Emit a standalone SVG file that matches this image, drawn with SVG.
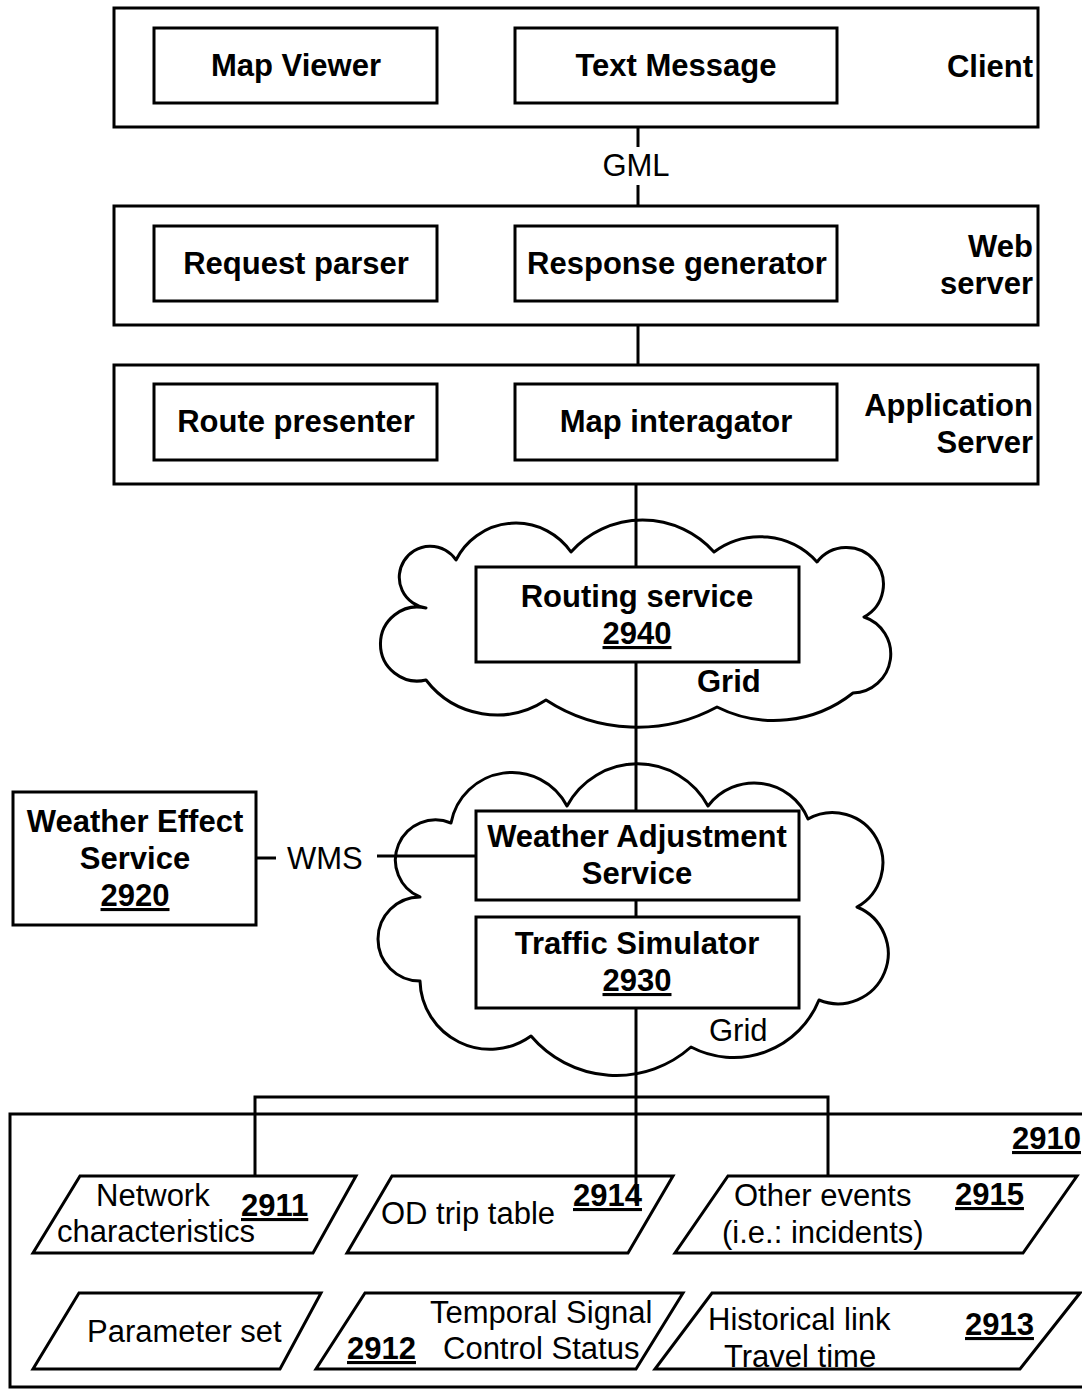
<svg xmlns="http://www.w3.org/2000/svg" width="1082" height="1389" viewBox="0 0 1082 1389">
<style>
  .box { fill: #ffffff; stroke: #000000; stroke-width: 3; }
  .cloud { fill: none; stroke: #000000; stroke-width: 3; stroke-linejoin: round; }
  .para { fill: #ffffff; stroke: #000000; stroke-width: 3; stroke-linejoin: miter; }
  .wire { fill: none; stroke: #000000; stroke-width: 3; }
  text { font-family: "Liberation Sans", Arial, Helvetica, sans-serif; font-size: 31px; fill: #000000; }
  .b { font-weight: bold; }
  .c { text-anchor: middle; }
  .e { text-anchor: end; }
  .u { text-decoration: underline; font-weight: bold; }
</style>
<rect width="1082" height="1389" fill="#ffffff"/>

<g id="clouds">
  <path id="grid-cloud-1" class="cloud" d="M 456 560 A 67 67 0 0 1 571 552 A 96 96 0 0 1 714 552 A 77 77 0 0 1 817 562 A 37 37 0 1 1 864 617 A 39 39 0 0 1 853 693 A 127 127 0 0 1 717 707 A 167 167 0 0 1 546 700 A 89 89 0 0 1 426 680 A 37 37 0 1 1 426 608 A 31 31 0 1 1 456 560 Z"/>
  <path id="grid-cloud-2" class="cloud" d="M 451 823 A 62 62 0 0 1 567 806 A 80 80 0 0 1 708 806 A 58 58 0 0 1 808 819 A 50 50 0 0 1 857 907 A 50 50 0 0 1 819 1000 A 92 92 0 0 1 691 1047 A 112 112 0 0 1 531 1036 A 70 70 0 0 1 420 981 A 42 42 0 1 1 420 897 A 40 40 0 0 1 451 823 Z"/>
  <text class="b" x="697" y="692">Grid</text>
  <text x="709" y="1041">Grid</text>
</g>

<g id="node-2910">
  <rect class="box" x="10" y="1114" width="1085" height="273" fill="none"/>
  <text class="u e" x="1081" y="1149">2910</text>
</g>

<g id="connectors">
  <line class="wire" x1="638" y1="127" x2="638" y2="147"/>
  <line class="wire" x1="638" y1="185" x2="638" y2="206"/>
  <text id="label-gml" class="c" x="636" y="176">GML</text>
  <line class="wire" x1="638" y1="325" x2="638" y2="365"/>
  <line class="wire" x1="636" y1="484" x2="636" y2="567"/>
  <line class="wire" x1="636" y1="662" x2="636" y2="811"/>
  <line class="wire" x1="636" y1="900" x2="636" y2="917"/>
  <line class="wire" x1="636" y1="1008" x2="636" y2="1203"/>
  <polyline class="wire" points="255,1176 255,1097 828,1097 828,1176"/>
  <line class="wire" x1="256" y1="858" x2="276" y2="858"/>
  <line class="wire" x1="377" y1="856" x2="476" y2="856"/>
  <text id="label-wms" x="287" y="869">WMS</text>
</g>

<g id="node-client">
  <rect class="box" x="114" y="8" width="924" height="119"/>
  <text class="b e" x="1033" y="77">Client</text>
</g>
<g id="node-map-viewer">
  <rect class="box" x="154" y="28" width="283" height="75"/>
  <text class="b c" x="296" y="76">Map Viewer</text>
</g>
<g id="node-text-message">
  <rect class="box" x="515" y="28" width="322" height="75"/>
  <text class="b c" x="676" y="76">Text Message</text>
</g>

<g id="node-web-server">
  <rect class="box" x="114" y="206" width="924" height="119"/>
  <text class="b e" x="1033" y="257">Web</text>
  <text class="b e" x="1033" y="294">server</text>
</g>
<g id="node-request-parser">
  <rect class="box" x="154" y="226" width="283" height="75"/>
  <text class="b c" x="296" y="274">Request parser</text>
</g>
<g id="node-response-generator">
  <rect class="box" x="515" y="226" width="322" height="75"/>
  <text class="b c" x="677" y="274">Response generator</text>
</g>

<g id="node-application-server">
  <rect class="box" x="114" y="365" width="924" height="119"/>
  <text class="b e" x="1033" y="416">Application</text>
  <text class="b e" x="1033" y="453">Server</text>
</g>
<g id="node-route-presenter">
  <rect class="box" x="154" y="384" width="283" height="76"/>
  <text class="b c" x="296" y="432">Route presenter</text>
</g>
<g id="node-map-interagator">
  <rect class="box" x="515" y="384" width="322" height="76"/>
  <text class="b c" x="676" y="432">Map interagator</text>
</g>

<g id="node-2940">
  <rect class="box" x="476" y="567" width="323" height="95"/>
  <text class="b c" x="637" y="607">Routing service</text>
  <text class="u c" x="637" y="644">2940</text>
</g>

<g id="node-weather-adjustment">
  <rect class="box" x="476" y="811" width="323" height="89"/>
  <text class="b c" x="637" y="847">Weather Adjustment</text>
  <text class="b c" x="637" y="884">Service</text>
</g>

<g id="node-2930">
  <rect class="box" x="476" y="917" width="323" height="91"/>
  <text class="b c" x="637" y="954">Traffic Simulator</text>
  <text class="u c" x="637" y="991">2930</text>
</g>

<g id="node-2920">
  <rect class="box" x="13" y="792" width="243" height="133"/>
  <text class="b c" x="135" y="832">Weather Effect</text>
  <text class="b c" x="135" y="869">Service</text>
  <text class="u c" x="135" y="906">2920</text>
</g>

<g id="node-2911">
  <polygon class="para" points="80,1176 356,1176 313,1253 33,1253"/>
  <text x="96" y="1206">Network</text>
  <text class="u" x="241" y="1216">2911</text>
  <text x="57" y="1242">characteristics</text>
</g>
<g id="node-2914">
  <polygon class="para" points="392,1176 673,1176 628,1253 347,1253"/>
  <text x="381" y="1224">OD trip table</text>
  <text class="u" x="573" y="1206">2914</text>
</g>
<g id="node-2915">
  <polygon class="para" points="728,1176 1077,1176 1023,1253 675,1253"/>
  <text x="734" y="1206">Other events</text>
  <text class="u" x="955" y="1205">2915</text>
  <text x="722" y="1243">(i.e.: incidents)</text>
</g>
<g id="node-parameter-set">
  <polygon class="para" points="79,1293 321,1293 280,1369 33,1369"/>
  <text x="87" y="1342">Parameter set</text>
</g>
<g id="node-2912">
  <polygon class="para" points="365,1293 683,1293 636,1369 316,1369"/>
  <text x="430" y="1323">Temporal Signal</text>
  <text class="u" x="347" y="1359">2912</text>
  <text x="443" y="1359">Control Status</text>
</g>
<g id="node-2913">
  <polygon class="para" points="712,1293 1080,1293 1020,1369 655,1369"/>
  <text x="708" y="1330">Historical link</text>
  <text class="u" x="965" y="1335">2913</text>
  <text x="724" y="1367">Travel time</text>
</g>
<line class="wire" x1="636" y1="1176" x2="636" y2="1203"/>
</svg>
